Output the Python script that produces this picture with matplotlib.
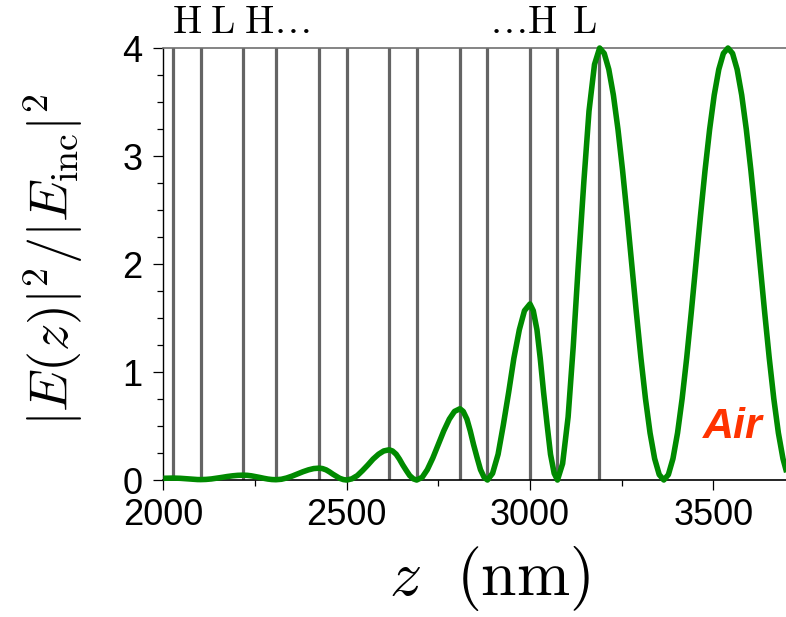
import matplotlib
matplotlib.use("Agg")
import matplotlib.pyplot as plt
from matplotlib.ticker import MultipleLocator
from matplotlib.transforms import blended_transform_factory

plt.rcParams['font.family'] = ['Liberation Sans', 'DejaVu Sans']
plt.rcParams['mathtext.fontset'] = 'cm'

# Layer interfaces of the H/L mirror (nm)
interfaces = [2027, 2102, 2218, 2307, 2425, 2500, 2616, 2691, 2809, 2884, 3000, 3075, 3188]

# Field intensity |E(z)|^2/|E_inc|^2
z_nm = [2000, 2014, 2027,
        2036, 2046, 2055, 2065, 2074, 2083, 2093, 2102,
        2116, 2131, 2145, 2160, 2174, 2189, 2203, 2218,
        2229, 2240, 2251, 2263, 2274, 2285, 2296, 2307,
        2322, 2336, 2351, 2366, 2381, 2396, 2410, 2425,
        2434, 2444, 2453, 2462, 2472, 2481, 2491, 2500,
        2514, 2529, 2543, 2558, 2572, 2587, 2601, 2616,
        2625, 2635, 2644, 2653, 2663, 2672, 2682, 2691,
        2706, 2720, 2735, 2750, 2765, 2780, 2794, 2809,
        2818, 2828, 2837, 2846, 2856, 2865, 2875, 2884,
        2898, 2913, 2927, 2942, 2956, 2971, 2985, 3000,
        3009, 3019, 3028, 3037, 3047, 3056, 3066, 3075,
        3089, 3104, 3118, 3132, 3147, 3161, 3176, 3190,
        3202.5, 3215, 3227.5, 3240, 3252.5, 3265, 3277.5, 3290, 3302.5, 3315,
        3327.5, 3340, 3352.5, 3365, 3377.5, 3390, 3402.5, 3415, 3427.5, 3440,
        3452.5, 3465, 3477.5, 3490, 3502.5, 3515, 3527.5, 3540, 3552.5, 3565,
        3577.5, 3590, 3602.5, 3615, 3627.5, 3640, 3652.5, 3665, 3677.5, 3690, 3700]

e2 = [0.016, 0.017, 0.018,
      0.0175, 0.016, 0.0137, 0.011, 0.0083, 0.006, 0.0045, 0.004,
      0.0056, 0.010, 0.0167, 0.0245, 0.0323, 0.039, 0.0434, 0.045,
      0.0434, 0.0389, 0.032, 0.024, 0.016, 0.0091, 0.0046, 0.003,
      0.0071, 0.0186, 0.036, 0.0565, 0.077, 0.0944, 0.106, 0.11,
      0.106, 0.094, 0.076, 0.055, 0.034, 0.016, 0.0042, 0.0,
      0.0106, 0.041, 0.0865, 0.14, 0.1935, 0.239, 0.269, 0.28,
      0.269, 0.239, 0.1935, 0.14, 0.0865, 0.041, 0.0106, 0.0,
      0.025, 0.096, 0.204, 0.33, 0.456, 0.564, 0.635, 0.66,
      0.635, 0.564, 0.456, 0.33, 0.204, 0.096, 0.025, 0.0,
      0.062, 0.238, 0.504, 0.815, 1.126, 1.392, 1.568, 1.63,
      1.568, 1.392, 1.126, 0.815, 0.504, 0.238, 0.062, 0.0,
      0.152, 0.584, 1.236, 2.0, 2.764, 3.416, 3.848, 4.0,
      3.950, 3.802, 3.564, 3.247, 2.868, 2.445, 2.000, 1.555, 1.132, 0.753,
      0.436, 0.198, 0.050, 0.0, 0.050, 0.198, 0.436, 0.753, 1.132, 1.555,
      2.000, 2.445, 2.868, 3.247, 3.564, 3.802, 3.950, 4.0, 3.950, 3.802,
      3.564, 3.247, 2.868, 2.445, 2.000, 1.555, 1.132, 0.753, 0.436, 0.198, 0.072]

x_ticks = [2000, 2500, 3000, 3500]
y_ticks = [0, 1, 2, 3, 4]

fig = plt.figure(figsize=(7.86, 6.17), dpi=100)
ax = fig.add_axes([0.2078, 0.2220, 0.7930, 0.7002])

for zi in interfaces:
    ax.axvline(zi, color='#646464', lw=2.3, zorder=1)

ax.plot(z_nm, e2, color='#008a00', lw=4.0, zorder=3, clip_on=False,
        solid_joinstyle='round', solid_capstyle='butt')

ax.set_xlim(2000, 3700)
ax.set_ylim(0, 4)
ax.set_xticks(x_ticks)
ax.set_yticks(y_ticks)
ax.xaxis.set_minor_locator(MultipleLocator(250))
ax.yaxis.set_minor_locator(MultipleLocator(0.25))

ax.spines['right'].set_visible(False)
ax.spines['top'].set_color('#707070')
ax.spines['top'].set_linewidth(1.2)
ax.spines['left'].set_linewidth(1.0)
ax.spines['bottom'].set_linewidth(1.2)

ax.tick_params(axis='both', which='major', direction='out', length=7, width=0.9,
               labelsize=26)
ax.tick_params(axis='both', which='minor', direction='out', length=4, width=0.9)
ax.tick_params(axis='x', which='major', pad=6)
ax.tick_params(axis='y', which='major', pad=8)
ax.tick_params(top=False, right=False)

fig.text(0.068, 0.579, r'$|E(z)|^2/|E_{\rm inc}|^2$', rotation=90,
         ha='center', va='center', fontsize=39)
fig.text(0.623, 0.063, r'$z\ \ (\mathrm{nm})$', ha='center', va='center', fontsize=46)

trans = blended_transform_factory(ax.transData, ax.transAxes)
ax.text(2023, 1.035, r'$\mathrm{H\;L\;H\ldots}$', transform=trans, ha='left',
        va='baseline', fontsize=28, clip_on=False)
ax.text(2888, 1.035, r'$\mathrm{\ldots H\;\,L}$', transform=trans, ha='left',
        va='baseline', fontsize=28, clip_on=False)

ax.text(0.913, 0.123, 'Air', transform=ax.transAxes, ha='center', va='center',
        fontsize=31, fontweight='bold', fontstyle='italic', color='#ff3300')

fig.savefig('out.png', dpi=100)
